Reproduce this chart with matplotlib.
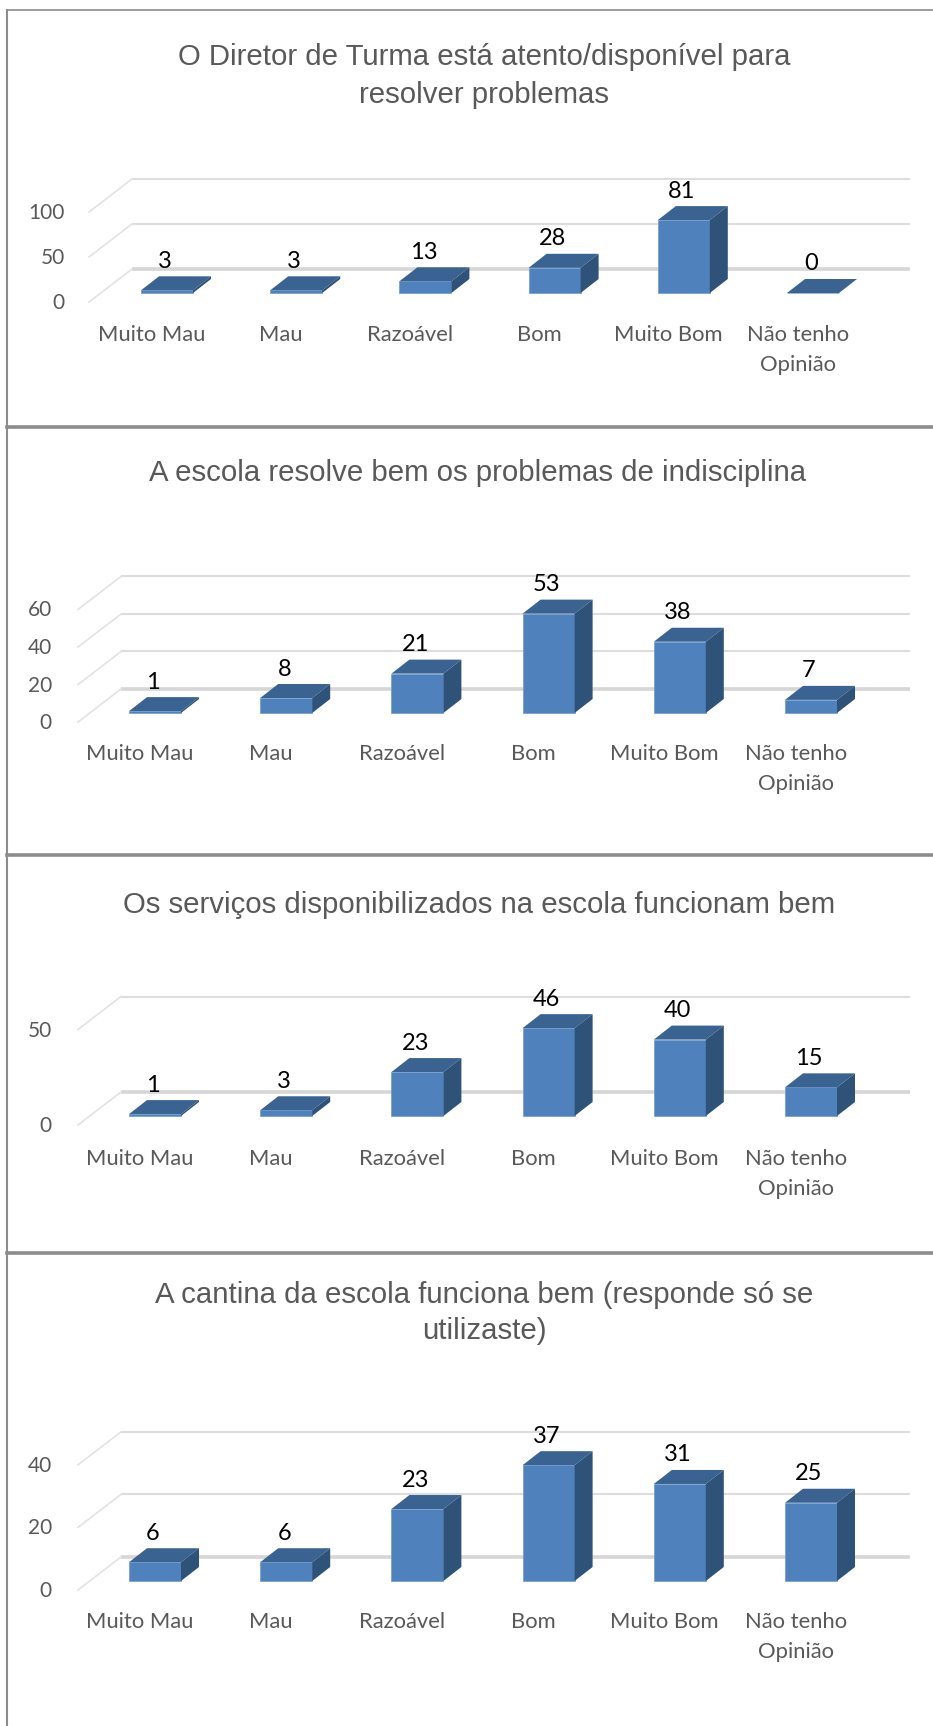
import matplotlib
matplotlib.use('Agg')
import matplotlib.pyplot as plt
from matplotlib.lines import Line2D

W, H = 933, 1726

categories = ['Muito Mau', 'Mau', 'Razoável', 'Bom', 'Muito Bom', 'Não tenho\nOpinião']

title_1 = 'O Diretor de Turma está atento/disponível para\nresolver problemas'
title_2 = 'A escola resolve bem os problemas de indisciplina'
title_3 = 'Os serviços disponibilizados na escola funcionam bem'
title_4 = 'A cantina da escola funciona bem (responde só se\nutilizaste)'

values_1 = [3, 3, 13, 28, 81, 0]
values_2 = [1, 8, 21, 53, 38, 7]
values_3 = [1, 3, 23, 46, 40, 15]
values_4 = [6, 6, 23, 37, 31, 25]

ticks_1 = [0, 50, 100]
ticks_2 = [0, 20, 40, 60]
ticks_3 = [0, 50]
ticks_4 = [0, 20, 40]

FRONT = '#4F81BD'
TOP = '#3A6391'
SIDE = '#2F5279'
GRID = '#DDDDDD'
TEXT = '#595959'
FRAME = '#8C8C8C'

BAR_W = 52       # px
DEPTH_X, DEPTH_Y = 18, 14     # bar depth, px
FLOOR_X, FLOOR_Y = 43, 33     # floor depth, px
BASE_UP = 24     # bar base sits this far below the back floor line, px


def draw_panel(fig, values, ticks, title, title_x, title_y, title_ls, x0, step, back0, scale, grid_x, tick_right, label_y):
    # axes over the whole panel width, scaled so one px maps onto the chart values
    bottom_px, top_px = back0 + 60, back0 - 260
    ax = fig.add_axes([0, 1 - bottom_px / H, 1, (bottom_px - top_px) / H])
    ax.axis('off')
    base_px = back0 + BASE_UP
    ax.set_xlim(-x0 / step, (W - x0) / step)
    ax.set_ylim((base_px - bottom_px) / scale, (base_px - top_px) / scale)

    ux = 1.0 / step    # one px in x data units
    uy = 1.0 / scale   # one px in y data units
    back_y = BASE_UP * uy

    # grid, back wall lines and the diagonal on the floor
    for t in ticks:
        lw = 2.6 if t == 0 else 1.5
        col = '#D6D6D6' if t == 0 else GRID
        x_back = (grid_x - x0) * ux
        x_end = (910 - x0) * ux
        ax.plot([x_back, x_end], [t + back_y, t + back_y], color=col, lw=lw, zorder=1, solid_capstyle='butt')
        ax.plot([x_back - FLOOR_X * ux, x_back],
                [t + back_y - FLOOR_Y * uy, t + back_y],
                color='#E2E2E2', lw=1.2, zorder=1)
        ax.annotate(str(t), (x_back - FLOOR_X * ux, t + back_y - FLOOR_Y * uy),
                    xytext=(tick_right - grid_x + FLOOR_X, -1), textcoords='offset pixels',
                    ha='right', va='center', fontsize=15, color=TEXT, family='Lato')

    # bars
    xs = list(range(len(values)))
    ax.bar(xs, values, width=BAR_W * ux, color=FRONT, edgecolor='#6F9BD0', linewidth=0.5, zorder=3)
    dx = DEPTH_X * ux
    dy = DEPTH_Y * uy
    hw = BAR_W * ux / 2
    for x, v in zip(xs, values):
        ax.fill([x - hw, x + hw, x + hw + dx, x - hw + dx], [v, v, v + dy, v + dy], color=TOP, lw=0, zorder=4)
        ax.fill([x + hw, x + hw + dx, x + hw + dx, x + hw], [0, dy, v + dy, v], color=SIDE, lw=0, zorder=4)
        ax.annotate(str(v), (x, v + dy), xytext=(-2, 15), textcoords='offset pixels',
                    ha='center', va='center', fontsize=17, color='black', family='Lato', zorder=5)

    # category labels sit left of the bar centres, one text per line
    for x, lab in zip(xs, categories):
        for i, part in enumerate(lab.split('\n')):
            fig.text((x0 + step * x - 15) / W, 1 - (label_y + i * 30) / H, part, ha='center', va='baseline',
                     fontsize=15.8, color=TEXT, family='Lato')

    fig.text(title_x / W, 1 - title_y / H, title, ha='center', va='center', fontsize=21.2,
             color=TEXT, family='Liberation Sans', linespacing=title_ls)


fig = plt.figure(figsize=(W / 100, H / 100), dpi=100, facecolor='white')

draw_panel(fig, values_1, ticks_1, title_1, 484, 76, 1.43, 167, 129.2, 269, 0.9, 132, 65, 341)
draw_panel(fig, values_2, ticks_2, title_2, 478, 473, 1.3, 155, 131.2, 689, 1.875, 121, 52, 760)
draw_panel(fig, values_3, ticks_3, title_3, 479, 905, 1.3, 155, 131.2, 1092, 1.91, 121, 52, 1165)
draw_panel(fig, values_4, ticks_4, title_4, 484, 1313, 1.33, 155, 131.2, 1557, 3.13, 121, 52, 1628)

# frame lines around the pasted charts
fig.add_artist(Line2D([7 / W, 7 / W], [0, 1 - 10 / H], color=FRAME, lw=1.5))
fig.add_artist(Line2D([7 / W, 1], [1 - 10 / H, 1 - 10 / H], color=FRAME, lw=1.2))
for y in [427, 855, 1253]:
    fig.add_artist(Line2D([7 / W, 1], [1 - y / H, 1 - y / H], color=FRAME, lw=2.6))

fig.savefig('out.png', dpi=100)
